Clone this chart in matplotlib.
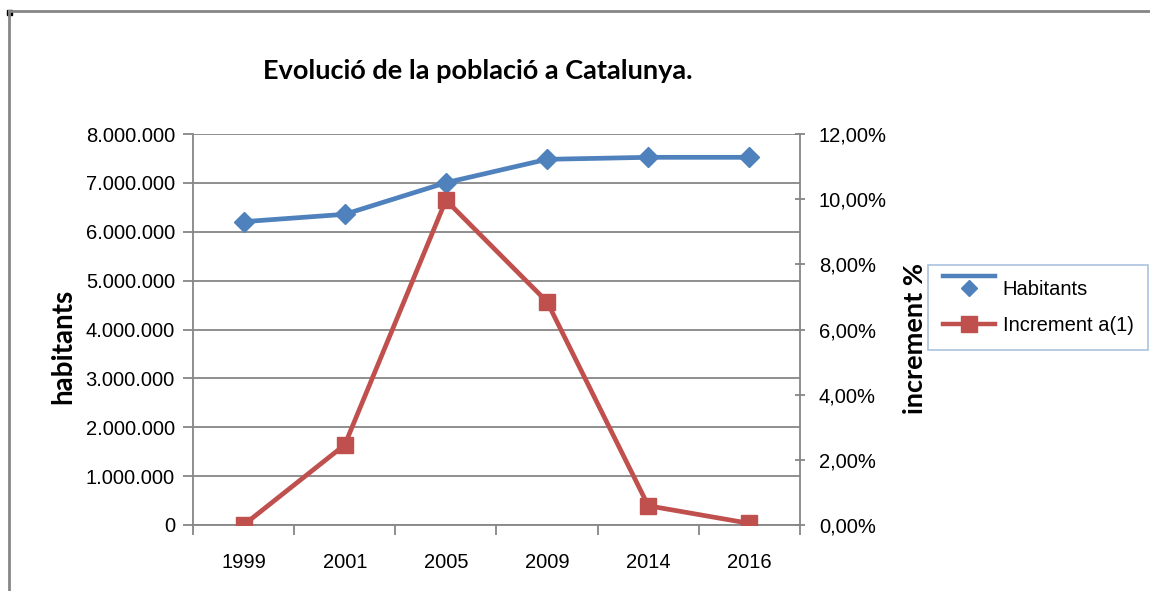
import matplotlib
matplotlib.use("Agg")
import matplotlib.pyplot as plt
from matplotlib.lines import Line2D
from matplotlib.legend_handler import HandlerBase
from matplotlib.ticker import FuncFormatter, MultipleLocator

# data
anys = ["1999", "2001", "2005", "2009", "2014", "2016"]
habitants = [6206000, 6357000, 7004000, 7482000, 7523000, 7523000]
increment = [0.0, 2.46, 9.97, 6.85, 0.59, 0.05]  # %

BLUE = "#4F81BD"
RED = "#C0504D"
GRID = "#868686"
FS = 14.5

plt.rcParams["font.family"] = ["Liberation Sans", "DejaVu Sans"]


class HabHandler(HandlerBase):
    # excel style entry: line sits above the marker
    def create_artists(self, legend, orig, xd, yd, w, h, fs, trans):
        yc = h / 2 - yd
        l = Line2D([-xd, -xd + w], [yc + h * 0.85] * 2, color=BLUE, lw=3.2,
                   transform=trans)
        m = Line2D([-xd + w / 2], [yc], marker="D", ms=8, ls="", color=BLUE,
                   transform=trans)
        return [l, m]


fig = plt.figure(figsize=(11.5, 5.91), dpi=100)
ax = fig.add_axes([193 / 1150, 1 - 525 / 591, 607 / 1150, 391 / 591])
ax2 = ax.twinx()

x = list(range(len(anys)))
ax.plot(x, habitants, color=BLUE, lw=3.4, marker="D", ms=10,
        mfc=BLUE, mec=BLUE, zorder=3, solid_capstyle="round")
ax2.plot(x, increment, color=RED, lw=3.4, marker="s", ms=12,
         mfc=RED, mec=RED, zorder=3)

ax.set_xlim(-0.5, len(anys) - 0.5)
ax.set_ylim(0, 8000000)
ax2.set_ylim(0, 12)

ax.yaxis.set_major_locator(MultipleLocator(1000000))
ax.yaxis.set_major_formatter(FuncFormatter(lambda v, p: f"{int(v):,}".replace(",", ".")))
ax2.yaxis.set_major_locator(MultipleLocator(2))
ax2.yaxis.set_major_formatter(FuncFormatter(lambda v, p: f"{v:.2f}%".replace(".", ",")))
ax2.yaxis.set_minor_locator(MultipleLocator(1))

ax.set_xticks(x)
ax.set_xticklabels(anys)
ax.set_xticks([i - 0.5 for i in range(len(anys) + 1)], minor=True)
ax.tick_params(axis="x", which="major", length=0, pad=20, labelsize=FS)
ax.tick_params(axis="x", which="minor", length=7, width=1.3, color=GRID, direction="out")
ax.tick_params(axis="y", length=7, width=1.3, color=GRID, labelsize=FS, pad=6)
ax2.tick_params(axis="y", which="major", length=7, width=1.3, color=GRID,
                labelsize=FS, pad=10, direction="inout")
ax2.tick_params(axis="y", which="minor", length=0)

ax.grid(axis="y", color=GRID, lw=1.3)
ax.set_axisbelow(True)
for a in (ax, ax2):
    for s in a.spines.values():
        s.set_visible(False)
    a.spines["left"].set_visible(a is ax)
    a.spines["right"].set_visible(a is ax2)
    a.spines["bottom"].set_visible(a is ax)
for s in (ax.spines["left"], ax.spines["bottom"], ax2.spines["right"]):
    s.set_color(GRID)
    s.set_linewidth(1.3)

lbl_font = ["Lato", "DejaVu Sans"]
fig.text(478 / 1150, 1 - 71 / 591, "Evolució de la població a Catalunya.",
         ha="center", va="center", fontsize=19.5, fontweight="bold", family=lbl_font)
fig.text(63 / 1150, 1 - 346 / 591, "habitants", rotation=90, ha="center", va="center",
         fontsize=20, fontweight="bold", family=lbl_font)
fig.text(915 / 1150, 1 - 338 / 591, "increment %", rotation=90, ha="center", va="center",
         fontsize=19.5, fontweight="bold", family=lbl_font)

handles = [Line2D([], [], color=BLUE),
           Line2D([], [], color=RED, lw=3.2, marker="s", ms=11)]
leg = fig.legend(handles, ["Habitants", "Increment a(1)"], loc="upper left",
                 bbox_to_anchor=(928 / 1150, 1 - 265 / 591), borderaxespad=0,
                 fontsize=FS, frameon=True, fancybox=False, borderpad=0.75,
                 handlelength=2.6, labelspacing=0.85, handletextpad=0.35,
                 handler_map={handles[0]: HabHandler()})
leg.get_frame().set_edgecolor("#95B3D7")
leg.get_frame().set_linewidth(1.2)

# outer chart frame
fig.add_artist(Line2D([9 / 1150, 1.0], [1 - 11 / 591, 1 - 11 / 591],
                      color=GRID, lw=2, transform=fig.transFigure))
fig.add_artist(Line2D([9 / 1150, 9 / 1150], [1 - 11 / 591, 0],
                      color=GRID, lw=2, transform=fig.transFigure))
fig.add_artist(plt.Rectangle((7 / 1150, 1 - 15 / 591), 5 / 1150, 5 / 591,
                             color="black", transform=fig.transFigure))

fig.savefig("out.png", dpi=100)
